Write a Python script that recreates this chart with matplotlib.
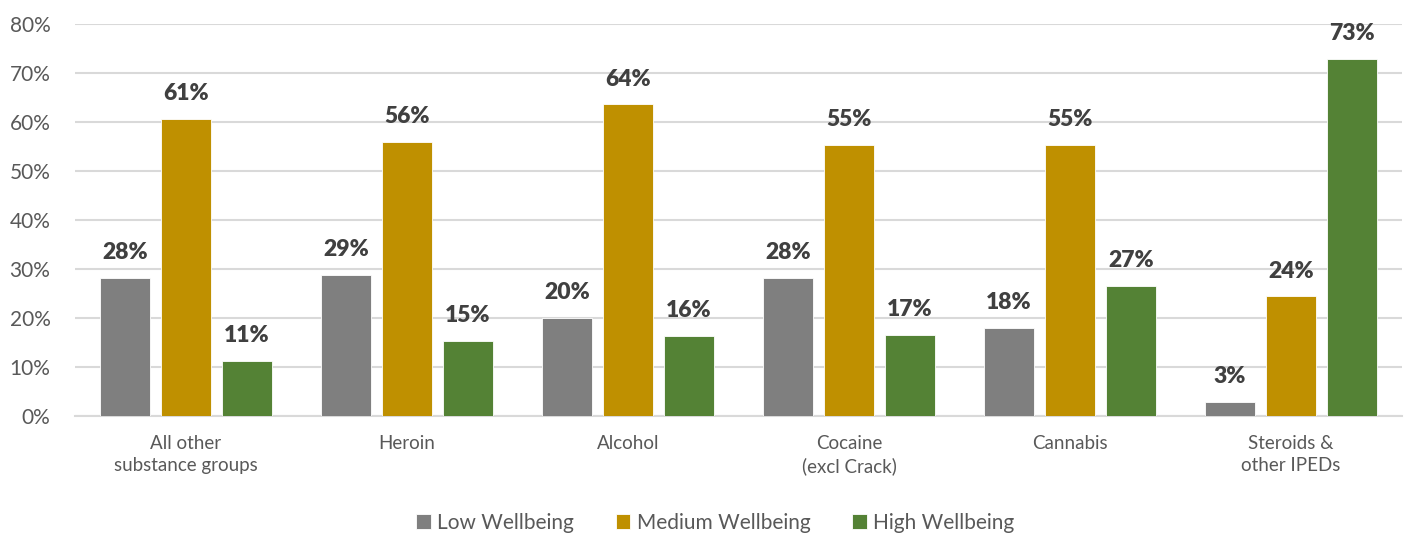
import numpy as np
import matplotlib
matplotlib.use("Agg")
import matplotlib.pyplot as plt

plt.rcParams['font.family'] = ['Lato', 'DejaVu Sans']

categories = ["All other\nsubstance groups", "Heroin", "Alcohol",
              "Cocaine\n(excl Crack)", "Cannabis", "Steroids &\nother IPEDs"]
series = ["Low Wellbeing", "Medium Wellbeing", "High Wellbeing"]
low = [28.2, 28.8, 20.0, 28.2, 18.0, 2.9]
medium = [60.6, 55.9, 63.6, 55.3, 55.4, 24.4]
high = [11.2, 15.3, 16.4, 16.6, 26.6, 72.9]
colors = ["#7f7f7f", "#bf9000", "#548235"]

fig = plt.figure(figsize=(14.08, 5.34), dpi=100)
ax = fig.add_axes([0.0536, 0.221, 0.9418, 0.734])

x = np.arange(len(categories))
w = 0.226
step = 0.276
for i, (vals, name) in enumerate(zip([low, medium, high], series)):
    bars = ax.bar(x + (i - 1) * step, vals, w, color=colors[i], label=name,
                  edgecolor="white", linewidth=0.6, zorder=3)
    for b, v in zip(bars, vals):
        ax.text(b.get_x() + b.get_width() / 2, v + 3.0, f"{v:.0f}%",
                ha="center", va="bottom", fontsize=16.5, fontweight="heavy",
                color="#404040")

ax.set_xlim(-0.5, len(categories) - 0.5)
ax.set_ylim(0, 80)
ax.set_yticks(np.arange(0, 81, 10))
ax.set_yticklabels([f"{t}%" for t in range(0, 81, 10)])
ax.set_xticks(x)
ax.set_xticklabels(categories, linespacing=1.35)
ax.tick_params(axis="y", length=0, pad=18, labelsize=15, labelcolor="#595959")
ax.tick_params(axis="x", length=0, pad=14, labelsize=13.5, labelcolor="#595959")
ax.grid(axis="y", color="#d9d9d9", linewidth=1.5, zorder=0)
for s in ["top", "right", "left"]:
    ax.spines[s].set_visible(False)
ax.spines["bottom"].set_color("#d9d9d9")
ax.spines["bottom"].set_linewidth(1.5)

fig.legend(loc="lower center", bbox_to_anchor=(0.508, -0.033), ncol=3,
           frameon=False, fontsize=15, labelcolor="#595959",
           handlelength=0.7, handleheight=0.7, handletextpad=0.3,
           columnspacing=2.0)

fig.savefig("out.png", dpi=100)
